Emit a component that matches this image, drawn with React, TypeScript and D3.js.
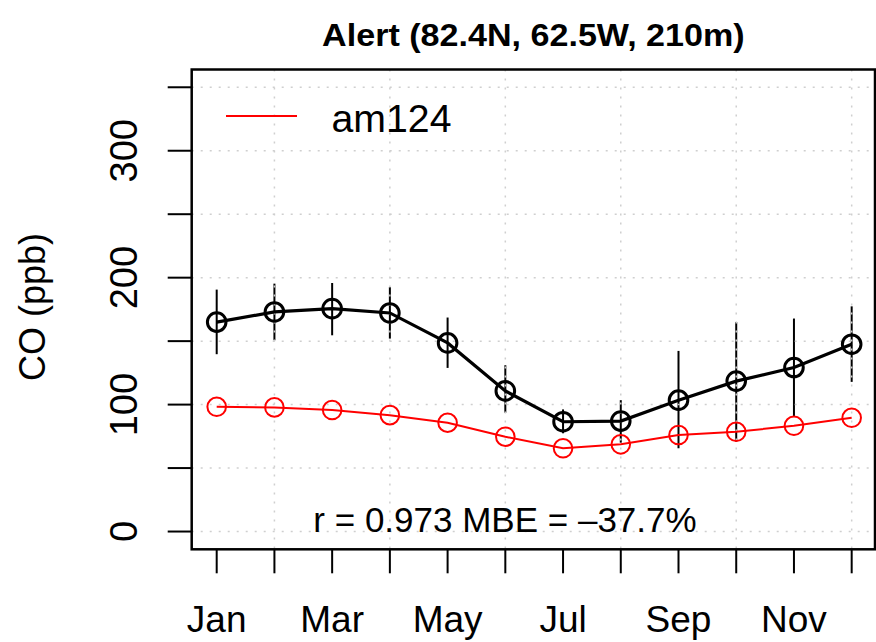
import * as d3 from "d3";

const months = ["Jan", "Feb", "Mar", "Apr", "May", "Jun", "Jul", "Aug", "Sep", "Oct", "Nov", "Dec"];
const monthIdx = d3.range(1, 13);
const obsMean = [165, 173, 175.6, 172.2, 148.6, 110.8, 86.5, 87, 103.5, 118.5, 129.2, 147.6];
const obsHigh = [190.6, 195.3, 195.8, 192.6, 168.6, 131, 96.2, 103.5, 142.3, 165.1, 167.8, 177.4];
const obsLow = [139.7, 150.7, 154.6, 152, 128.9, 93.6, 77.4, 70, 65.6, 70.8, 90.4, 117.9];
const modelMean = [98.3, 97.8, 95.7, 91.7, 85.7, 74.7, 65.6, 68.7, 76, 78.6, 83.3, 89.6];
const yTicks = [0, 50, 100, 150, 200, 250, 300, 350];
const yLabelTicks = [0, 100, 200, 300];
const xLabelMonths = [1, 3, 5, 7, 9, 11];
const gridMonths = [2, 4, 6, 8, 10, 12];

const W = 876;
const H = 642;
const left = 191.7;
const right = 875;
const top = 69.5;
const bottom = 549.3;

export default function App() {
  const x = d3.scaleLinear().domain([0.567, 12.404]).range([left, right]);
  const y = d3.scaleLinear().domain([-14, 364]).range([bottom, top]);

  const line = d3
    .line<number>()
    .x((_, i) => x(monthIdx[i]))
    .y((d) => y(d));

  const font = "Liberation Sans, Arial, Helvetica, sans-serif";
  const gridColor = "#cfcfcf";
  const titleX = (left + right) / 2;

  return (
    <svg
      width={W}
      height={H}
      viewBox={`0 0 ${W} ${H}`}
      style={{ position: "absolute", left: 0, top: 0, background: "#fff" }}
      fontFamily={font}
    >
      <rect width={W} height={H} fill="#fff" />
      <text
        transform={`translate(${titleX},46) scale(1.1,1)`}
        textAnchor="middle"
        fontWeight="bold"
        fontSize={31}
      >
        Alert (82.4N, 62.5W, 210m)
      </text>

      {/* error bars */}
      {monthIdx.map((m, i) => (
        <line
          key={"eb" + m}
          x1={x(m)}
          x2={x(m)}
          y1={y(obsHigh[i])}
          y2={y(obsLow[i])}
          stroke="#000"
          strokeWidth={2}
        />
      ))}

      {/* grid */}
      {yTicks.map((t) => (
        <line
          key={"gy" + t}
          x1={left}
          x2={right}
          y1={y(t)}
          y2={y(t)}
          stroke={gridColor}
          strokeWidth={1.5}
          strokeDasharray="2 7"
        />
      ))}
      {gridMonths.map((m) => (
        <line
          key={"gx" + m}
          x1={x(m)}
          x2={x(m)}
          y1={top}
          y2={bottom}
          stroke={gridColor}
          strokeWidth={1.5}
          strokeDasharray="2 7"
        />
      ))}

      {/* model series */}
      <path d={line(modelMean) ?? ""} fill="none" stroke="#ff0000" strokeWidth={2} />
      {modelMean.map((v, i) => (
        <circle key={"mc" + i} cx={x(monthIdx[i])} cy={y(v)} r={9.3} fill="none" stroke="#ff0000" strokeWidth={2} />
      ))}

      {/* observed series */}
      <path d={line(obsMean) ?? ""} fill="none" stroke="#000" strokeWidth={3.2} />
      {obsMean.map((v, i) => (
        <circle key={"oc" + i} cx={x(monthIdx[i])} cy={y(v)} r={9.3} fill="none" stroke="#000" strokeWidth={3} />
      ))}

      {/* box */}
      <rect x={left} y={top} width={right - left} height={bottom - top} fill="none" stroke="#000" strokeWidth={2.5} />

      {/* y axis */}
      {yTicks.map((t) => (
        <line key={"yt" + t} x1={left - 24} x2={left} y1={y(t)} y2={y(t)} stroke="#000" strokeWidth={2} />
      ))}
      {yLabelTicks.map((t) => (
        <text
          key={"yl" + t}
          transform={`translate(136.5,${y(t)}) rotate(-90)`}
          textAnchor="middle"
          fontSize={38}
        >
          {t}
        </text>
      ))}
      <text transform={`translate(45,307) rotate(-90)`} textAnchor="middle" fontSize={36}>
        CO (ppb)
      </text>

      {/* x axis */}
      {monthIdx.map((m) => (
        <line key={"xt" + m} x1={x(m)} x2={x(m)} y1={bottom} y2={bottom + 24} stroke="#000" strokeWidth={2} />
      ))}
      {xLabelMonths.map((m) => (
        <text key={"xl" + m} x={x(m)} y={631.5} textAnchor="middle" fontSize={37}>
          {months[m - 1]}
        </text>
      ))}

      {/* legend */}
      <line x1={226} x2={297} y1={116} y2={116} stroke="#ff0000" strokeWidth={2} />
      <text x={331.5} y={131.5} fontSize={38} textLength={120} lengthAdjust="spacingAndGlyphs">
        am124
      </text>

      <text x={505} y={531.5} textAnchor="middle" fontSize={35}>
        r = 0.973 MBE = –37.7%
      </text>
    </svg>
  );
}
